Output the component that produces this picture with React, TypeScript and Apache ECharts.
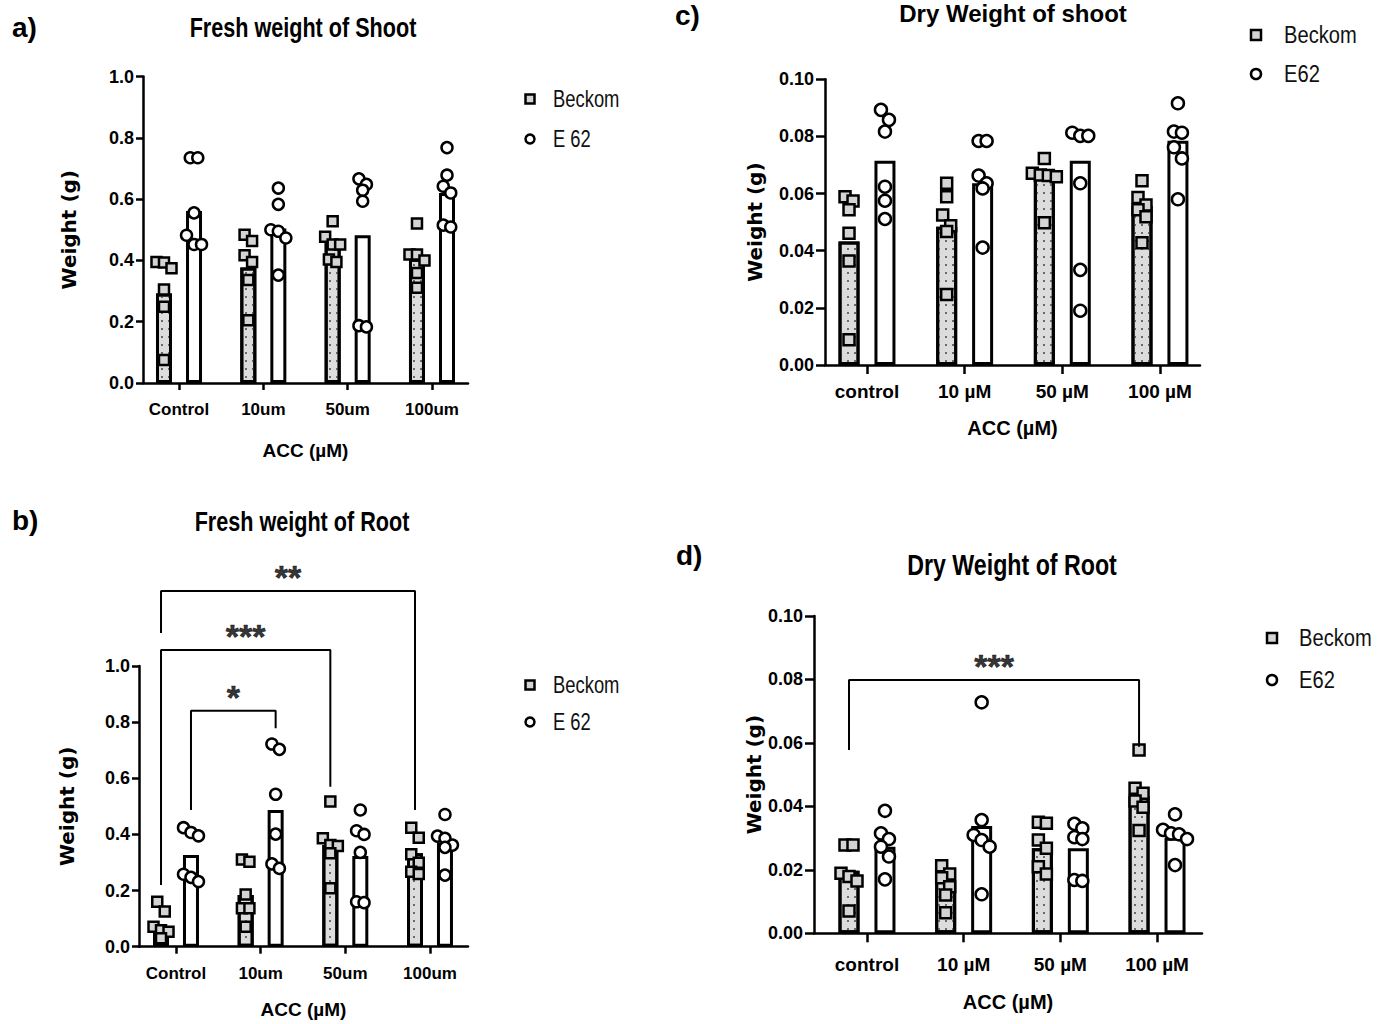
import React, { useEffect, useRef } from 'react';
import * as echarts from 'echarts';

// ---------- DATA ----------
const freshCategories = ['Control', '10um', '50um', '100um'];
const dryCategories = ['control', '10 µM', '50 µM', '100 µM'];
const freshTicks = [0, 0.2, 0.4, 0.6, 0.8, 1.0];
const dryTicks = [0, 0.02, 0.04, 0.06, 0.08, 0.1];

// a) Fresh weight of Shoot
const shootFreshBeckomBars = [0.292, 0.377, 0.47, 0.405];
const shootFreshE62Bars = [0.561, 0.504, 0.482, 0.62];
const shootFreshBeckomPts = [
  [0.395, 0.393, 0.374, 0.305, 0.249, 0.075],
  [0.484, 0.463, 0.417, 0.395, 0.336, 0.205],
  [0.528, 0.477, 0.452, 0.452, 0.403, 0.395],
  [0.52, 0.419, 0.419, 0.4, 0.359, 0.311],
];
const shootFreshE62Pts = [
  [0.735, 0.735, 0.555, 0.482, 0.452, 0.452],
  [0.636, 0.583, 0.5, 0.495, 0.473, 0.352],
  [0.666, 0.648, 0.629, 0.593, 0.187, 0.183],
  [0.768, 0.678, 0.642, 0.62, 0.515, 0.509],
];

// b) Fresh weight of Root
const rootFreshBeckomBars = [0.07, 0.184, 0.362, 0.333];
const rootFreshE62Bars = [0.327, 0.487, 0.323, 0.371];
const rootFreshBeckomPts = [
  [0.16, 0.125, 0.071, 0.059, 0.053, 0.03],
  [0.311, 0.303, 0.186, 0.137, 0.137, 0.071],
  [0.517, 0.386, 0.362, 0.359, 0.333, 0.208],
  [0.424, 0.388, 0.329, 0.299, 0.267, 0.259],
];
const rootFreshE62Pts = [
  [0.424, 0.407, 0.395, 0.258, 0.247, 0.232],
  [0.722, 0.703, 0.543, 0.401, 0.295, 0.279],
  [0.487, 0.413, 0.4, 0.336, 0.16, 0.157],
  [0.471, 0.394, 0.386, 0.362, 0.354, 0.255],
];
// [category, genotype(0 Beckom / 1 E62)] pairs, bracket top, leg ends, stars
const rootFreshBrackets = [
  { from: [0, 0], to: [3, 0], top: 1.267, legFrom: 1.118, legTo: 0.487, stars: '**' },
  { from: [0, 0], to: [2, 0], top: 1.057, legFrom: 0.22, legTo: 0.57, stars: '***' },
  { from: [0, 1], to: [1, 1], top: 0.841, legFrom: 0.487, legTo: 0.778, stars: '*' },
];

// c) Dry Weight of shoot
const shootDryBeckomBars = [0.0432, 0.0484, 0.0665, 0.0557];
const shootDryE62Bars = [0.0715, 0.0636, 0.0715, 0.0785];
const shootDryBeckomPts = [
  [0.0589, 0.0574, 0.0543, 0.0461, 0.0364, 0.0088],
  [0.0636, 0.0589, 0.0525, 0.0487, 0.0467, 0.0247],
  [0.0723, 0.0671, 0.0665, 0.0663, 0.0659, 0.0498],
  [0.0645, 0.0586, 0.056, 0.0543, 0.0519, 0.0428],
];
const shootDryE62Pts = [
  [0.0893, 0.0858, 0.0817, 0.0624, 0.0575, 0.0511],
  [0.0784, 0.0784, 0.0663, 0.0636, 0.0618, 0.0411],
  [0.0813, 0.0802, 0.0802, 0.0636, 0.0333, 0.019],
  [0.0916, 0.0817, 0.0813, 0.0762, 0.0723, 0.058],
];

// d) Dry Weight of Root
const rootDryBeckomBars = [0.0197, 0.0165, 0.0268, 0.0433];
const rootDryE62Bars = [0.0273, 0.0338, 0.0268, 0.0301];
const rootDryBeckomPts = [
  [0.0278, 0.0278, 0.0189, 0.0179, 0.0165, 0.007],
  [0.0213, 0.0187, 0.0175, 0.0147, 0.0121, 0.0065],
  [0.035, 0.0347, 0.0294, 0.0268, 0.021, 0.0187],
  [0.0578, 0.0457, 0.0441, 0.0417, 0.0397, 0.0324],
];
const rootDryE62Pts = [
  [0.0386, 0.0315, 0.0297, 0.0273, 0.0242, 0.017],
  [0.0728, 0.0357, 0.031, 0.0294, 0.0273, 0.0123],
  [0.0345, 0.0331, 0.0303, 0.0297, 0.0168, 0.0165],
  [0.0375, 0.0326, 0.0315, 0.0312, 0.0297, 0.0215],
];
const rootDryBrackets = [
  { from: [0, 0], to: [3, 0], top: 0.0798, legFrom: 0.0578, legTo: 0.0588, stars: '***' },
];

// ---------- STYLE / LAYOUT ----------
const REG = '"Liberation Sans", Arial, sans-serif';

const panels = [
  {
    letter: 'a)', letterPos: [12, 27], title: 'Fresh weight of Shoot', titlePos: [303, 28], titleSize: 27, titleScale: 0.8,
    grid: { left: 143, top: 76.5, width: 325, height: 306.5 }, xMin: -0.427, xMax: 3.427,
    ticks: freshTicks, decimals: 1, categories: freshCategories, labelSize: 18, xLabelSize: 17, xNameSize: 19,
    tickLen: 7, xLabelMargin: 18, yLabelMargin: 9, xNameGap: 58, yNameGap: 64,
    beckomBars: shootFreshBeckomBars, e62Bars: shootFreshE62Bars, beckomPts: shootFreshBeckomPts, e62Pts: shootFreshE62Pts,
    brackets: [] as any[], barWidth: 16, offset: 0.178, symbolSize: 11, spacing: 7.5,
    legend: { x: 530, y1: 99, y2: 139, textX: 553, names: ['Beckom', 'E 62'], size: 23, scale: 0.8, marker: 9 },
  },
  {
    letter: 'b)', letterPos: [12, 520], title: 'Fresh weight of Root', titlePos: [302, 522], titleSize: 27, titleScale: 0.8,
    grid: { left: 139, top: 666, width: 329, height: 280.7 }, xMin: -0.437, xMax: 3.449,
    ticks: freshTicks, decimals: 1, categories: freshCategories, labelSize: 18, xLabelSize: 17, xNameSize: 19,
    tickLen: 7, xLabelMargin: 18, yLabelMargin: 9, xNameGap: 53, yNameGap: 62,
    beckomBars: rootFreshBeckomBars, e62Bars: rootFreshE62Bars, beckomPts: rootFreshBeckomPts, e62Pts: rootFreshE62Pts,
    brackets: rootFreshBrackets, barWidth: 16, offset: 0.177, symbolSize: 11, spacing: 7.5,
    legend: { x: 530, y1: 685, y2: 722, textX: 553, names: ['Beckom', 'E 62'], size: 23, scale: 0.8, marker: 9 },
  },
  {
    letter: 'c)', letterPos: [675, 15], title: 'Dry Weight of shoot', titlePos: [1013, 13], titleSize: 24, titleScale: 1,
    grid: { left: 825, top: 79.3, width: 375, height: 285.7 }, xMin: -0.43, xMax: 3.41,
    ticks: dryTicks, decimals: 2, categories: dryCategories, labelSize: 18, xLabelSize: 19, xNameSize: 20,
    tickLen: 9, xLabelMargin: 17, yLabelMargin: 11, xNameGap: 53, yNameGap: 60,
    beckomBars: shootDryBeckomBars, e62Bars: shootDryE62Bars, beckomPts: shootDryBeckomPts, e62Pts: shootDryE62Pts,
    brackets: [] as any[], barWidth: 21, offset: 0.184, symbolSize: 12, spacing: 8,
    legend: { x: 1256, y1: 35, y2: 74, textX: 1284, names: ['Beckom', 'E62'], size: 24, scale: 0.84, marker: 10 },
  },
  {
    letter: 'd)', letterPos: [676, 555], title: 'Dry Weight of Root', titlePos: [1012, 565], titleSize: 29, titleScale: 0.8,
    grid: { left: 814, top: 616, width: 388, height: 317.3 }, xMin: -0.548, xMax: 3.465,
    ticks: dryTicks, decimals: 2, categories: dryCategories, labelSize: 18, xLabelSize: 19, xNameSize: 20,
    tickLen: 9, xLabelMargin: 22, yLabelMargin: 11, xNameGap: 59, yNameGap: 49,
    beckomBars: rootDryBeckomBars, e62Bars: rootDryE62Bars, beckomPts: rootDryBeckomPts, e62Pts: rootDryE62Pts,
    brackets: rootDryBrackets, barWidth: 21, offset: 0.186, symbolSize: 12, spacing: 8,
    legend: { x: 1272, y1: 638, y2: 680, textX: 1299, names: ['Beckom', 'E62'], size: 24, scale: 0.84, marker: 10 },
  },
];

const BECKOM_FILL = '#d4d4d4';
const BAR_GRAY = '#dcdcdc';

// simple symmetric swarm: groups points whose pixel distance is small, spreads them side by side
function swarm(values: number[], pxPerVal: number, spacing: number, threshold: number): number[] {
  const order = values.map((_, i) => i).sort((a, b) => values[b] - values[a]);
  const offs = new Array(values.length).fill(0);
  let cluster: number[] = [];
  const flush = () => {
    const n = cluster.length;
    cluster.forEach((id, j) => { offs[id] = (j - (n - 1) / 2) * spacing; });
    cluster = [];
  };
  for (const id of order) {
    if (cluster.length && (values[cluster[0]] - values[id]) * pxPerVal > threshold) flush();
    cluster.push(id);
  }
  flush();
  return offs;
}

function buildOption() {
  const grid: any[] = [];
  const xAxis: any[] = [];
  const yAxis: any[] = [];
  const series: any[] = [];
  const graphic: any[] = [];

  panels.forEach((p, i) => {
    const yMax = p.ticks[p.ticks.length - 1];
    const yInterval = p.ticks[1] - p.ticks[0];
    grid.push({ ...p.grid, containLabel: false });
    const axisLineStyle = { color: '#000', width: 2.5 };
    xAxis.push({
      type: 'value', gridIndex: i, min: p.xMin, max: p.xMax, splitLine: { show: false },
      axisLine: { show: true, onZero: false, lineStyle: axisLineStyle },
      axisTick: { show: true, customValues: [0, 1, 2, 3], length: p.tickLen, lineStyle: axisLineStyle },
      axisLabel: {
        customValues: [0, 1, 2, 3], formatter: (v: number) => p.categories[Math.round(v)] ?? '',
        margin: p.xLabelMargin, color: '#000', fontFamily: REG, fontWeight: 'bold', fontSize: p.xLabelSize,
      },
      name: 'ACC (µM)', nameLocation: 'middle', nameGap: p.xNameGap,
      nameTextStyle: { fontFamily: REG, fontWeight: 'bold', fontSize: p.xNameSize, color: '#000' },
    });
    yAxis.push({
      type: 'value', gridIndex: i, min: 0, max: yMax, interval: yInterval, splitLine: { show: false },
      axisLine: { show: true, onZero: false, lineStyle: axisLineStyle },
      axisTick: { show: true, length: p.tickLen, lineStyle: axisLineStyle },
      axisLabel: {
        formatter: (v: number) => v.toFixed(p.decimals), margin: p.yLabelMargin,
        color: '#000', fontFamily: REG, fontWeight: 'bold', fontSize: p.labelSize,
      },
      name: 'Weight (g)', nameLocation: 'middle', nameGap: p.yNameGap, nameRotate: 90,
      nameTextStyle: { fontFamily: '"DejaVu Sans", sans-serif', fontWeight: 'bold', fontSize: 20, color: '#000' },
    });

    const pxPerX = p.grid.width / (p.xMax - p.xMin);
    const pxPerY = p.grid.height / yMax;
    const xPos = (cat: number, geno: number) => cat + (geno === 0 ? -p.offset : p.offset);

    const beckomBarStyle = {
      color: BAR_GRAY, borderColor: '#000', borderWidth: 3,
      decal: { symbol: 'rect', symbolSize: 1, color: '#6a6a6a', dashArrayX: [1.3, 4.7], dashArrayY: [1.3, 5.2], rotation: 0 },
    };
    const e62BarStyle = { color: '#fff', borderColor: '#000', borderWidth: 3 };
    series.push({
      type: 'bar', xAxisIndex: i, yAxisIndex: i, barWidth: p.barWidth, z: 2, silent: true,
      data: [
        ...p.beckomBars.map((v, k) => ({ value: [xPos(k, 0), v], itemStyle: beckomBarStyle })),
        ...p.e62Bars.map((v, k) => ({ value: [xPos(k, 1), v], itemStyle: e62BarStyle })),
      ],
    });

    const mkPts = (groups: number[][], geno: number) => {
      const out: number[][] = [];
      groups.forEach((vals, k) => {
        const offs = swarm(vals, pxPerY, p.spacing, p.symbolSize);
        vals.forEach((v, j) => out.push([xPos(k, geno) + offs[j] / pxPerX, v]));
      });
      return out;
    };
    series.push({
      type: 'scatter', name: p.legend.names[0], xAxisIndex: i, yAxisIndex: i, z: 3, silent: true,
      symbol: 'rect', symbolSize: p.symbolSize - 1,
      itemStyle: { color: BECKOM_FILL, borderColor: '#000', borderWidth: 2.5, opacity: 1 },
      data: mkPts(p.beckomPts, 0),
    });
    series.push({
      type: 'scatter', name: p.legend.names[1], xAxisIndex: i, yAxisIndex: i, z: 3, silent: true,
      symbol: 'circle', symbolSize: p.symbolSize,
      itemStyle: { color: '#fff', borderColor: '#000', borderWidth: 2.5, opacity: 1 },
      data: mkPts(p.e62Pts, 1),
    });

    p.brackets.forEach((b: any) => {
      const xa = xPos(b.from[0], b.from[1]);
      const xb = xPos(b.to[0], b.to[1]);
      series.push({
        type: 'line', xAxisIndex: i, yAxisIndex: i, z: 4, silent: true, clip: false,
        symbol: 'none', lineStyle: { color: '#000', width: 2 },
        data: [[xa, b.legFrom], [xa, b.top], [xb, b.top], [xb, b.legTo]],
      });
      series.push({
        type: 'scatter', xAxisIndex: i, yAxisIndex: i, z: 5, silent: true, clip: false,
        symbol: 'circle', symbolSize: 1, itemStyle: { color: 'rgba(0,0,0,0)' },
        label: {
          show: true, position: 'inside', offset: [0, -14], formatter: b.stars,
          fontFamily: REG, fontWeight: 'bold', fontSize: 34, color: '#000',
          textBorderColor: '#000', textBorderWidth: 0.6,
        },
        data: [[(xa + xb) / 2, b.top]],
      });
    });

    // panel letter and title
    graphic.push({
      type: 'text', x: p.letterPos[0], y: p.letterPos[1],
      style: { text: p.letter, font: `bold 28px ${REG}`, fill: '#000', textVerticalAlign: 'middle' },
    });
    graphic.push({
      type: 'text', x: p.titlePos[0], y: p.titlePos[1], scaleX: p.titleScale,
      style: { text: p.title, font: `bold ${p.titleSize}px ${REG}`, fill: '#000', textAlign: 'center', textVerticalAlign: 'middle' },
    });
    // legend
    const L = p.legend;
    graphic.push({
      type: 'rect', shape: { x: L.x - L.marker / 2, y: L.y1 - L.marker / 2, width: L.marker, height: L.marker },
      style: { fill: BECKOM_FILL, stroke: '#000', lineWidth: 2.5 },
    });
    graphic.push({
      type: 'circle', shape: { cx: L.x, cy: L.y2, r: L.marker / 2 },
      style: { fill: '#fff', stroke: '#000', lineWidth: 2.5 },
    });
    graphic.push({
      type: 'text', x: L.textX, y: L.y1, scaleX: L.scale,
      style: { text: L.names[0], font: `${L.size}px ${REG}`, fill: '#111', textVerticalAlign: 'middle' },
    });
    graphic.push({
      type: 'text', x: L.textX, y: L.y2, scaleX: L.scale,
      style: { text: L.names[1], font: `${L.size}px ${REG}`, fill: '#111', textVerticalAlign: 'middle' },
    });
  });

  return {
    animation: false,
    backgroundColor: '#fff',
    grid, xAxis, yAxis, series, graphic,
  };
}

export default function App() {
  const ref = useRef<HTMLDivElement>(null);
  useEffect(() => {
    if (!ref.current) return;
    const chart = echarts.init(ref.current, undefined, { renderer: 'svg' });
    chart.setOption(buildOption() as any);
    return () => chart.dispose();
  }, []);
  return (
    <div
      ref={ref}
      style={{ position: 'absolute', left: 0, top: 0, width: 1388, height: 1024, background: '#fff' }}
    />
  );
}
